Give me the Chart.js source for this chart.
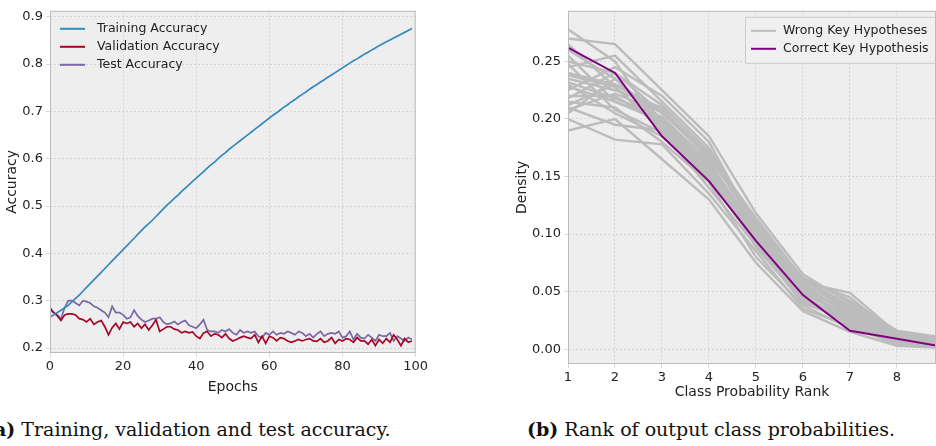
<!DOCTYPE html>
<html><head><meta charset="utf-8">
<script src="https://cdn.jsdelivr.net/npm/chart.js@4"></script>
<style>
body{margin:0;background:#fff;width:936px;height:446px;overflow:hidden;position:relative;font-family:"DejaVu Sans"}
#c1{position:absolute;left:0;top:0}
#c2{position:absolute;left:510px;top:0}
.cap{position:absolute;top:418px;font-family:"DejaVu Serif";font-size:19px;color:#111;white-space:nowrap}
</style></head><body>
<canvas id="c1" width="430" height="400" style="width:430px;height:400px"></canvas>
<canvas id="c2" width="426" height="405" style="width:426px;height:405px"></canvas>
<div class="cap" style="left:-6px"><b>a)</b> Training, validation and test accuracy.</div>
<div class="cap" style="left:527px"><b>(b)</b> Rank of output class probabilities.</div>
<script>
const epochs = Array.from({length:100},(_,i)=>i);
const trainAcc=[0.265,0.27,0.275,0.28,0.285,0.29,0.298,0.305,0.312,0.32,0.328,0.336,0.344,0.352,0.36,0.368,0.376,0.384,0.392,0.40,0.408,0.416,0.424,0.432,0.44,0.448,0.456,0.463,0.47,0.478,0.486,0.494,0.502,0.509,0.516,0.523,0.531,0.538,0.545,0.552,0.559,0.566,0.573,0.58,0.587,0.593,0.6,0.607,0.613,0.62,0.626,0.632,0.638,0.644,0.65,0.656,0.662,0.668,0.674,0.68,0.686,0.692,0.697,0.703,0.709,0.714,0.72,0.725,0.731,0.736,0.741,0.747,0.752,0.757,0.762,0.767,0.772,0.777,0.782,0.787,0.792,0.797,0.802,0.807,0.811,0.816,0.821,0.825,0.83,0.834,0.839,0.843,0.847,0.851,0.855,0.859,0.863,0.867,0.871,0.875];
const valAcc=[0.285,0.275,0.268,0.258,0.27,0.272,0.272,0.27,0.262,0.26,0.255,0.262,0.25,0.255,0.258,0.245,0.228,0.243,0.252,0.24,0.255,0.252,0.255,0.245,0.252,0.242,0.25,0.238,0.248,0.26,0.235,0.24,0.245,0.245,0.24,0.238,0.232,0.235,0.232,0.234,0.225,0.22,0.232,0.235,0.225,0.23,0.228,0.222,0.23,0.22,0.215,0.218,0.222,0.225,0.222,0.22,0.228,0.212,0.225,0.21,0.225,0.222,0.215,0.222,0.22,0.215,0.212,0.215,0.218,0.215,0.218,0.22,0.215,0.214,0.22,0.212,0.215,0.222,0.21,0.218,0.215,0.22,0.218,0.212,0.222,0.215,0.215,0.208,0.218,0.205,0.218,0.21,0.22,0.212,0.228,0.218,0.205,0.22,0.212,0.215];
const testAcc=[0.28,0.275,0.27,0.262,0.285,0.3,0.3,0.295,0.29,0.3,0.298,0.295,0.288,0.285,0.28,0.275,0.265,0.288,0.275,0.275,0.27,0.262,0.265,0.28,0.268,0.26,0.255,0.258,0.262,0.262,0.265,0.255,0.25,0.252,0.256,0.25,0.255,0.258,0.248,0.245,0.242,0.25,0.26,0.238,0.235,0.235,0.232,0.238,0.235,0.24,0.232,0.228,0.238,0.232,0.235,0.232,0.235,0.225,0.222,0.232,0.228,0.235,0.228,0.232,0.23,0.235,0.232,0.228,0.235,0.232,0.225,0.23,0.222,0.23,0.235,0.225,0.23,0.232,0.23,0.235,0.222,0.225,0.235,0.218,0.23,0.222,0.22,0.228,0.222,0.215,0.228,0.225,0.225,0.232,0.215,0.225,0.22,0.215,0.222,0.218];
const leftYTicks=[0.2,0.3,0.4,0.5,0.6,0.7,0.8,0.9];
const leftXTicks=[0,20,40,60,80,100];

const ranks=[1,2,3,4,5,6,7,8,9];
const correctKey=[0.262,0.240,0.185,0.146,0.094,0.047,0.016,0.009,0.002];
const wrongKeys=[
[0.278,0.250,0.190,0.150,0.100,0.055,0.020,0.008,0.002],
[0.190,0.200,0.165,0.130,0.075,0.033,0.015,0.003,0.001],
[0.270,0.265,0.225,0.185,0.118,0.065,0.040,0.015,0.008],
[0.200,0.182,0.178,0.135,0.085,0.035,0.020,0.004,0.002],
[0.240,0.230,0.205,0.170,0.110,0.060,0.045,0.012,0.006],
[0.255,0.215,0.200,0.160,0.100,0.050,0.035,0.010,0.005],
[0.225,0.245,0.220,0.180,0.105,0.055,0.030,0.012,0.008],
[0.210,0.195,0.190,0.140,0.090,0.040,0.025,0.008,0.003],
[0.235,0.225,0.210,0.165,0.112,0.058,0.049,0.014,0.009],
[0.260,0.235,0.195,0.150,0.095,0.045,0.025,0.010,0.004],
[0.215,0.210,0.180,0.145,0.080,0.038,0.018,0.006,0.002],
[0.245,0.255,0.215,0.175,0.108,0.062,0.042,0.016,0.010],
[0.205,0.235,0.200,0.155,0.098,0.048,0.028,0.009,0.005],
[0.230,0.205,0.185,0.160,0.088,0.042,0.022,0.007,0.003],
[0.220,0.220,0.195,0.158,0.102,0.052,0.032,0.011,0.006],
[0.250,0.240,0.205,0.168,0.106,0.056,0.036,0.013,0.007],
[0.228,0.215,0.198,0.152,0.096,0.044,0.027,0.008,0.004],
[0.238,0.228,0.190,0.162,0.104,0.053,0.033,0.012,0.006],
[0.212,0.230,0.208,0.170,0.114,0.061,0.038,0.014,0.008],
[0.248,0.208,0.188,0.148,0.092,0.046,0.024,0.009,0.004],
[0.218,0.240,0.212,0.172,0.107,0.057,0.034,0.013,0.007],
[0.232,0.218,0.202,0.163,0.099,0.050,0.029,0.010,0.005],
[0.265,0.228,0.192,0.154,0.093,0.043,0.021,0.007,0.003],
[0.208,0.222,0.206,0.166,0.111,0.059,0.037,0.015,0.009]];
const rightYTicks=[0,0.05,0.10,0.15,0.20,0.25];
const rightXTicks=[1,2,3,4,5,6,7,8];

Chart.defaults.font.family='"DejaVu Sans"';
Chart.defaults.color='#222';
Chart.defaults.animation=false;

const bg={id:'bg',beforeDraw(c){const a=c.chartArea,x=c.ctx;x.save();x.fillStyle='#eeeeee';x.fillRect(a.left,a.top,a.right-a.left,a.bottom-a.top);x.restore();},
 afterDraw(c){const a=c.chartArea,x=c.ctx;x.save();x.strokeStyle='#bcbcbc';x.lineWidth=1;x.strokeRect(a.left+0.5,a.top+0.5,a.right-a.left-1,a.bottom-a.top-1);x.restore();}};
function legendPlugin(items,box){return {id:'lg',afterDatasetsDraw(c){const x=c.ctx,a=c.chartArea;x.save();
 let lx=box.right?a.right-box.w-box.dx:a.left+box.dx, ly=a.top+box.dy;
 if(box.frame){x.fillStyle='rgba(240,240,240,0.9)';x.strokeStyle='#cccccc';x.fillRect(lx,ly,box.w,items.length*18+10);x.strokeRect(lx+0.5,ly+0.5,box.w,items.length*18+10);}
 x.font='12.5px "DejaVu Sans"';x.textBaseline='middle';
 items.forEach((it,i)=>{const y=ly+14+i*18;x.strokeStyle=it[1];x.lineWidth=2;x.beginPath();x.moveTo(lx+6,y);x.lineTo(lx+31,y);x.stroke();x.fillStyle='#222';x.fillText(it[0],lx+box.tx,y);});
 x.restore();}};}
const grid={color:'#cfcfcf',lineWidth:0.8,tickLength:4};
const border={display:false,dash:[2,2]};

new Chart(document.getElementById('c1'),{type:'line',
 data:{labels:epochs,datasets:[
  {label:'Training Accuracy',data:trainAcc,borderColor:'#348ABD'},
  {label:'Validation Accuracy',data:valAcc,borderColor:'#A60628'},
  {label:'Test Accuracy',data:testAcc,borderColor:'#7A68A6'}]},
 options:{responsive:false,devicePixelRatio:1,elements:{point:{radius:0},line:{borderWidth:1.7,tension:0}},
  layout:{padding:{top:8,right:10,left:0,bottom:0}},
  plugins:{legend:{display:false},tooltip:{enabled:false}},
  scales:{
   x:{type:'linear',min:0,max:100,afterBuildTicks:s=>{s.ticks=leftXTicks.map(v=>({value:v}))},afterFit:s=>{s.height=47},
    grid:{...grid},border,ticks:{font:{size:13},maxRotation:0,padding:2},
    title:{display:true,text:'Epochs',font:{size:14},padding:{top:0}}},
   y:{min:0.1895,max:0.9126,afterBuildTicks:s=>{s.ticks=leftYTicks.map(v=>({value:v}))},afterFit:s=>{s.width=50},
    grid:{...grid},border,ticks:{font:{size:13},padding:3,callback:v=>v.toFixed(1)},
    title:{display:true,text:'Accuracy',font:{size:14},padding:{bottom:2}}}}},
 plugins:[bg,legendPlugin([['Training Accuracy','#348ABD'],['Validation Accuracy','#A60628'],['Test Accuracy','#7A68A6']],{dx:4,dy:4,w:170,tx:43})]});

const ds=wrongKeys.map((w,i)=>({label:'Wrong Key Hypotheses',data:w,borderColor:'#bcbcbc',borderWidth:2.4,order:1}));
ds.push({label:'Correct Key Hypothesis',data:correctKey,borderColor:'#800080',borderWidth:2,order:0});
new Chart(document.getElementById('c2'),{type:'line',
 data:{labels:ranks,datasets:ds.map(d=>({...d,data:d.data.map((v,i)=>({x:ranks[i],y:v}))}))},
 options:{responsive:false,devicePixelRatio:1,elements:{point:{radius:0},line:{tension:0}},
  layout:{padding:{top:8,right:0,left:0,bottom:0}},
  plugins:{legend:{display:false},tooltip:{enabled:false}},
  scales:{
   x:{type:'linear',min:1,max:8.83,afterBuildTicks:s=>{s.ticks=rightXTicks.map(v=>({value:v}))},afterFit:s=>{s.height=41},
    grid:{...grid},border,ticks:{font:{size:13},maxRotation:0,padding:2},
    title:{display:true,text:'Class Probability Rank',font:{size:14},padding:{top:0}}},
   y:{min:-0.0129,max:0.294,afterBuildTicks:s=>{s.ticks=rightYTicks.map(v=>({value:v}))},afterFit:s=>{s.width=58},
    grid:{...grid},border,ticks:{font:{size:13},padding:3,callback:v=>v.toFixed(2)},
    title:{display:true,text:'Density',font:{size:14},padding:{bottom:2}}}}},
 plugins:[bg,legendPlugin([['Wrong Key Hypotheses','#bcbcbc'],['Correct Key Hypothesis','#800080']],{right:true,dx:-1,dy:6,w:192,tx:38,frame:true})]});
</script></body></html>
